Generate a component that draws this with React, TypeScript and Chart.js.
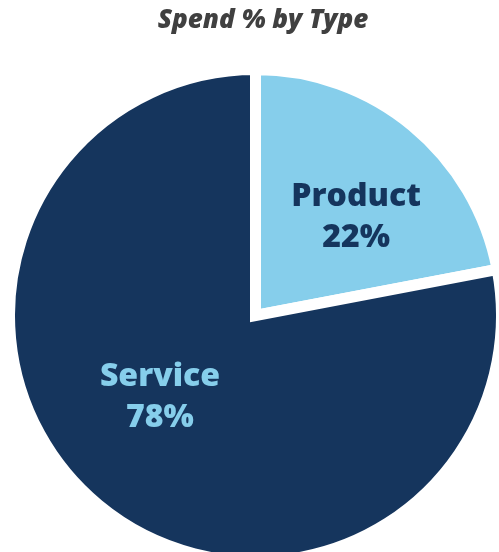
import React, { useEffect, useRef } from "react";
import { Chart, registerables } from "chart.js";

Chart.register(...registerables);

const chartTitle = "Spend % by Type";
const categories = ["Product", "Service"];
const values = [22, 78];
const percentLabels = ["22%", "78%"];
const sliceColors = ["#86CEEB", "#15355D"];
const labelColors = ["#15355D", "#86CEEB"];
// label placement relative to slice mid-angle (degrees) and radius fraction
const labelAngleShift = [8.9, 6.8];
const labelRadiusFrac = [0.546, 0.536];

const FONT = '"Open Sans", "DejaVu Sans", sans-serif';

const labelPlugin = {
  id: "sliceLabels",
  afterDatasetsDraw(chart: any) {
    const ctx = chart.ctx;
    const meta = chart.getDatasetMeta(0);
    meta.data.forEach((arc: any, i: number) => {
      const { x, y, startAngle, endAngle, outerRadius } = arc.getProps(
        ["x", "y", "startAngle", "endAngle", "outerRadius"],
        true
      );
      const a = (startAngle + endAngle) / 2 + (labelAngleShift[i] * Math.PI) / 180;
      const r = outerRadius * labelRadiusFrac[i];
      const cx = x + Math.cos(a) * r;
      const cy = y + Math.sin(a) * r;
      ctx.save();
      ctx.font = `800 32px ${FONT}`;
      ctx.fillStyle = labelColors[i];
      ctx.textAlign = "center";
      ctx.textBaseline = "alphabetic";
      ctx.fillText(categories[i], cx, cy - 20.5);
      ctx.fillText(percentLabels[i], cx, cy + 20.5);
      ctx.restore();
    });
    ctx.save();
    ctx.font = `italic 800 26px ${FONT}`;
    ctx.fillStyle = "#404040";
    ctx.textAlign = "center";
    ctx.textBaseline = "alphabetic";
    ctx.fillText(chartTitle, 263, 28);
    ctx.restore();
  },
};

export default function App() {
  const canvasRef = useRef<HTMLCanvasElement | null>(null);

  useEffect(() => {
    if (!canvasRef.current) return;
    const chart = new Chart(canvasRef.current, {
      type: "pie",
      data: {
        labels: categories,
        datasets: [
          {
            data: values,
            backgroundColor: sliceColors,
            borderColor: "#ffffff",
            borderWidth: 11,
            borderAlign: "center",
            borderJoinStyle: "miter",
          } as any,
        ],
      },
      options: {
        responsive: false,
        animation: false,
        events: [],
        radius: 246,
        layout: { padding: 0 },
        plugins: {
          legend: { display: false },
          tooltip: { enabled: false },
          title: { display: false },
        },
      } as any,
      plugins: [labelPlugin],
    });
    return () => chart.destroy();
  }, []);

  return (
    <div
      style={{
        position: "absolute",
        left: 0,
        top: 0,
        width: 499,
        height: 552,
        overflow: "hidden",
        background: "#ffffff",
      }}
    >
      <canvas
        ref={canvasRef}
        width={511}
        height={631}
        style={{ position: "absolute", left: 0, top: 0, display: "block" }}
      />
    </div>
  );
}
